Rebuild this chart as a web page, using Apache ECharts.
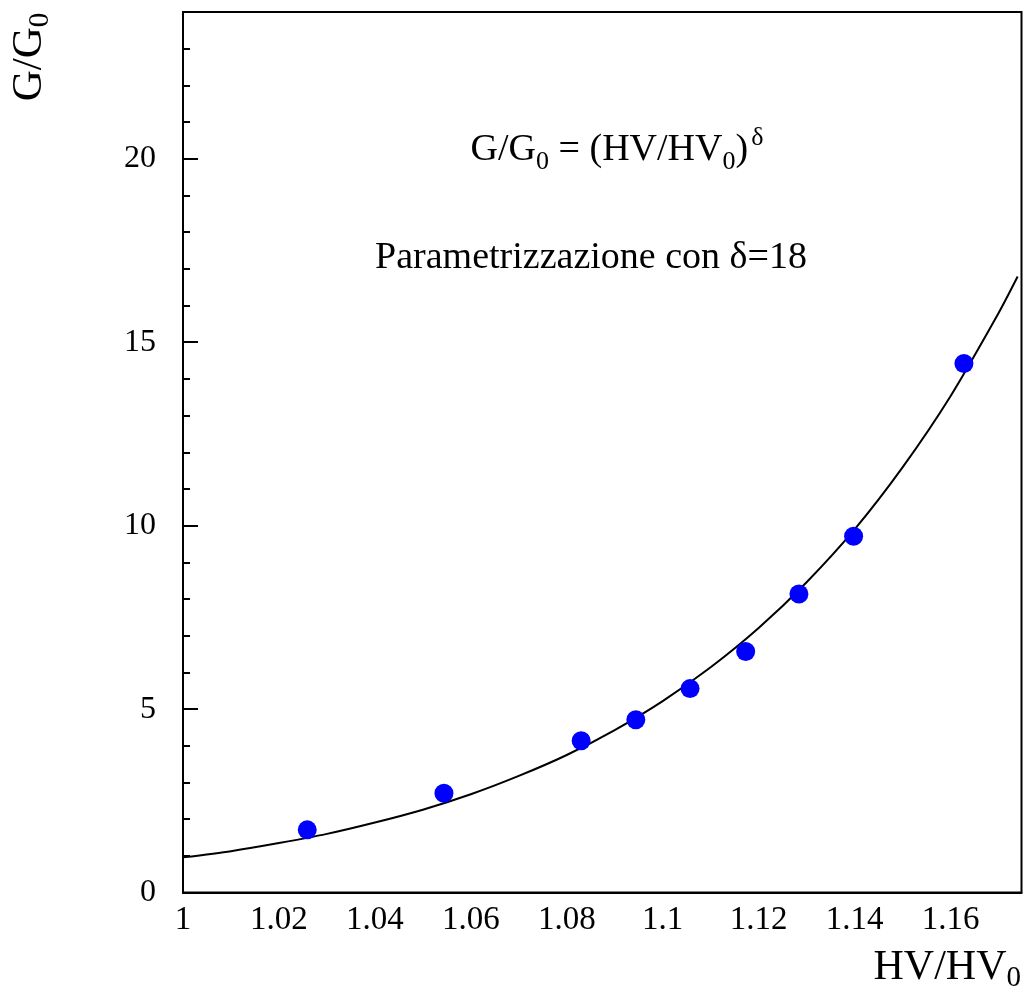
<!DOCTYPE html>
<html>
<head>
<meta charset="utf-8">
<script src="https://cdn.jsdelivr.net/npm/echarts@6/dist/echarts.min.js"></script>
<style>
html,body{margin:0;padding:0;background:#fff;}
#chart{width:1025px;height:994px;}
</style>
</head>
<body>
<div id="chart"></div>
<script>
// Measured points (HV/HV0, G/G0)
const pointX = [1.0259, 1.0544, 1.0830, 1.0944, 1.1057, 1.1173, 1.1284, 1.1398, 1.1628];
const pointY = [1.71, 2.71, 4.14, 4.71, 5.56, 6.57, 8.14, 9.71, 14.42];

// Parametrization curve
const curveX = [1.00, 1.01, 1.02, 1.03, 1.04, 1.05, 1.06, 1.07, 1.08, 1.09, 1.10, 1.11, 1.12, 1.13, 1.14, 1.15, 1.16, 1.17, 1.174];
const curveY = [0.96, 1.13, 1.35, 1.60, 1.91, 2.26, 2.68, 3.18, 3.75, 4.43, 5.22, 6.14, 7.21, 8.46, 9.90, 11.59, 13.53, 15.79, 16.79];

// Tick labels
const xTicks = [1, 1.02, 1.04, 1.06, 1.08, 1.10, 1.12, 1.14, 1.16];
const xTickLabels = ['1', '1.02', '1.04', '1.06', '1.08', '1.1', '1.12', '1.14', '1.16'];
const yTicks = [0, 5, 10, 15, 20];
const yTickLabels = ['0', '5', '10', '15', '20'];

const FONT = '"Liberation Serif", "DejaVu Serif", serif';

function lookup(ticks, labels, v) {
  const i = ticks.findIndex(t => Math.abs(t - v) < 1e-6);
  return i >= 0 ? labels[i] : '';
}

const chart = echarts.init(document.getElementById('chart'), null, {renderer: 'canvas'});

const option = {
  backgroundColor: '#ffffff',
  animation: false,
  grid: {
    left: 183, top: 12, right: 3.5, bottom: 101.4,
    show: true, borderColor: '#000', borderWidth: 2, backgroundColor: 'transparent'
  },
  xAxis: {
    type: 'value', min: 1, max: 1.1748, interval: 0.02,
    axisLine: {show: true, lineStyle: {color: '#000', width: 2}},
    axisTick: {show: false},
    splitLine: {show: false},
    axisLabel: {
      showMaxLabel: false, margin: 11,
      color: '#000', fontFamily: FONT, fontSize: 33,
      formatter: v => lookup(xTicks, xTickLabels, v)
    }
  },
  yAxis: [
    {
      type: 'value', min: 0, max: 24, interval: 5,
      axisLine: {show: true, lineStyle: {color: '#000', width: 2}},
      axisTick: {show: true, inside: true, length: 15, lineStyle: {color: '#000', width: 2}},
      splitLine: {show: false},
      axisLabel: {
        showMaxLabel: false, margin: 27,
        color: '#000', fontFamily: FONT, fontSize: 32,
        formatter: v => lookup(yTicks, yTickLabels, v)
      }
    },
    {
      type: 'value', min: 0, max: 24, interval: 1, position: 'left',
      axisLine: {show: false},
      axisTick: {show: true, inside: true, length: 7, lineStyle: {color: '#000', width: 2}},
      splitLine: {show: false},
      axisLabel: {show: false}
    }
  ],
  series: [
    {
      type: 'line',
      data: curveX.map((x, i) => [x, curveY[i]]),
      smooth: 0.25,
      showSymbol: false,
      lineStyle: {color: '#000', width: 2},
      z: 2
    },
    {
      type: 'scatter',
      data: pointX.map((x, i) => [x, pointY[i]]),
      symbol: 'circle',
      symbolSize: 19,
      itemStyle: {color: '#0000ff', opacity: 1},
      z: 3
    }
  ],
  graphic: [
    {
      type: 'text', x: 30, y: 57, rotation: Math.PI / 2,
      style: {
        text: '{m|G/G}{s|0}',
        align: 'center', verticalAlign: 'middle',
        fill: '#000',
        rich: {
          m: {fontFamily: FONT, fontSize: 43, lineHeight: 50, verticalAlign: 'middle'},
          s: {fontFamily: FONT, fontSize: 29, lineHeight: 50, verticalAlign: 'bottom', padding: [12, 0, 0, 0]}
        }
      }
    },
    {
      type: 'text', x: 1021, y: 968,
      style: {
        text: '{m|HV/HV}{s|0}',
        align: 'right', verticalAlign: 'middle',
        fill: '#000',
        rich: {
          m: {fontFamily: FONT, fontSize: 42, lineHeight: 50, verticalAlign: 'middle'},
          s: {fontFamily: FONT, fontSize: 29, lineHeight: 50, verticalAlign: 'bottom', padding: [12, 0, 0, 0]}
        }
      }
    },
    {
      type: 'text', x: 617, y: 150,
      style: {
        text: '{m|G/G}{s|0}{m| = (HV/HV}{s|0}{m|)}{p|δ}',
        align: 'center', verticalAlign: 'middle',
        fill: '#000',
        rich: {
          m: {fontFamily: FONT, fontSize: 38, lineHeight: 50, verticalAlign: 'middle'},
          s: {fontFamily: FONT, fontSize: 26, lineHeight: 50, verticalAlign: 'bottom', padding: [12, 0, 0, 0]},
          p: {fontFamily: FONT, fontSize: 26, lineHeight: 50, verticalAlign: 'top', padding: [0, 0, 14, 3]}
        }
      }
    },
    {
      type: 'text', x: 591, y: 258,
      style: {
        text: 'Parametrizzazione con δ=18',
        align: 'center', verticalAlign: 'middle',
        fill: '#000', fontFamily: FONT, fontSize: 38
      }
    }
  ]
};

chart.setOption(option);
</script>
</body>
</html>
